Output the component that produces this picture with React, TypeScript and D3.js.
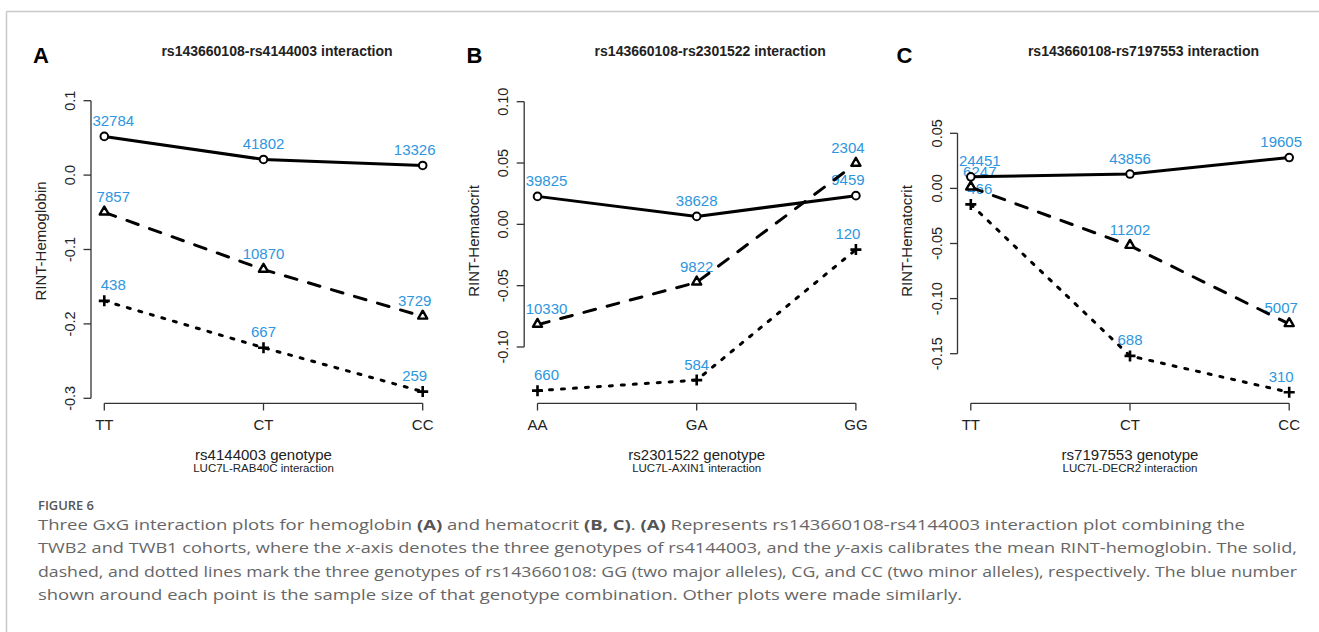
import React from "react";
import * as d3 from "d3";

const width = 1319,
  height = 632;

// panel A: rs143660108 x rs4144003, hemoglobin
const catsA = ["TT", "CT", "CC"];
const solidA = [0.052, 0.021, 0.013];
const dashedA = [-0.05, -0.127, -0.19];
const dottedA = [-0.169, -0.232, -0.291];
const nSolidA = [32784, 41802, 13326];
const nDashedA = [7857, 10870, 3729];
const nDottedA = [438, 667, 259];
const ticksA = [-0.3, -0.2, -0.1, 0.0, 0.1];

// panel B: rs143660108 x rs2301522, hematocrit
const catsB = ["AA", "GA", "GG"];
const solidB = [0.0228, 0.0065, 0.0234];
const dashedB = [-0.0818, -0.0473, 0.0495];
const dottedB = [-0.1356, -0.127, -0.0206];
const nSolidB = [39825, 38628, 9459];
const nDashedB = [10330, 9822, 2304];
const nDottedB = [660, 584, 120];
const ticksB = [-0.1, -0.05, 0.0, 0.05, 0.1];

// panel C: rs143660108 x rs7197553, hematocrit
const catsC = ["TT", "CT", "CC"];
const solidC = [0.0105, 0.013, 0.028];
const dashedC = [0.001, -0.052, -0.123];
const dottedC = [-0.0145, -0.152, -0.185];
const nSolidC = [24451, 43856, 19605];
const nDashedC = [6247, 11202, 5007];
const nDottedC = [466, 688, 310];
const ticksC = [-0.15, -0.1, -0.05, 0.0, 0.05];

const panels = [
  {
    letter: "A", letterX: 33, ox: 0,
    title: "rs143660108-rs4144003 interaction",
    ylab: "RINT-Hemoglobin", xlab: "rs4144003 genotype", sub: "LUC7L-RAB40C interaction",
    cats: catsA, series: [solidA, dashedA, dottedA], counts: [nSolidA, nDashedA, nDottedA],
    ticks: ticksA, fmt: ".1f", yRange: [398.3, 100.7],
  },
  {
    letter: "B", letterX: 466.5, ox: 433.2,
    title: "rs143660108-rs2301522 interaction",
    ylab: "RINT-Hematocrit", xlab: "rs2301522 genotype", sub: "LUC7L-AXIN1 interaction",
    cats: catsB, series: [solidB, dashedB, dottedB], counts: [nSolidB, nDashedB, nDottedB],
    ticks: ticksB, fmt: ".2f", yRange: [347, 101.7],
  },
  {
    letter: "C", letterX: 896.5, ox: 866.5,
    title: "rs143660108-rs7197553 interaction",
    ylab: "RINT-Hematocrit", xlab: "rs7197553 genotype", sub: "LUC7L-DECR2 interaction",
    cats: catsC, series: [solidC, dashedC, dottedC], counts: [nSolidC, nDashedC, nDottedC],
    ticks: ticksC, fmt: ".2f", yRange: [353.7, 133.3],
  },
];

const dashes = [null, "12,12", "3,9"];
const labelShift = [9, 0, -8];
const blue = "#2c96e0";
const ink = "#222";
const axisCol = "#333";
const helv = "'Liberation Sans', Arial, Helvetica, sans-serif";

function Marker({ kind, x, y }: { kind: number; x: number; y: number }) {
  if (kind === 0)
    return <circle cx={x} cy={y} r={3.8} fill="#fff" stroke="#000" strokeWidth={2} />;
  if (kind === 1) {
    const s = d3.symbol(d3.symbolTriangle, 36)();
    return <path d={s as string} transform={`translate(${x},${y - 0.5})`} fill="#fff" stroke="#000" strokeWidth={2.4} strokeLinejoin="round" />;
  }
  return (
    <path d={`M${x - 5.5},${y}H${x + 5.5}M${x},${y - 5.5}V${y + 5.5}`} stroke="#000" strokeWidth={2.6} />
  );
}

function Panel({ p }: { p: (typeof panels)[number] }) {
  const { ox } = p;
  const x = d3.scalePoint<string>().domain(p.cats).range([ox + 104.3, ox + 422.7]);
  const y = d3
    .scaleLinear()
    .domain([p.ticks[0], p.ticks[p.ticks.length - 1]])
    .range(p.yRange);
  const fmt = d3.format(p.fmt);
  const axX = ox + 91;
  const line = d3
    .line<number>()
    .x((_, i) => x(p.cats[i]) as number)
    .y((d) => y(d));
  const xFirst = x(p.cats[0]) as number;
  const xLast = x(p.cats[p.cats.length - 1]) as number;

  return (
    <g>
      <text x={p.letterX} y={63.3} fontFamily={helv} fontWeight="bold" fontSize={22} fill="#000">
        {p.letter}
      </text>
      <text x={ox + 277} y={55.5} textAnchor="middle" fontFamily={helv} fontWeight="bold" fontSize={14} fill={ink}>
        {p.title}
      </text>

      {/* y axis */}
      <line x1={axX} x2={axX} y1={y(p.ticks[0])} y2={y(p.ticks[p.ticks.length - 1])} stroke={axisCol} strokeWidth={1.3} />
      {p.ticks.map((t) => (
        <g key={t}>
          <line x1={axX - 7.5} x2={axX} y1={y(t)} y2={y(t)} stroke={axisCol} strokeWidth={1.3} />
          <text
            transform={`translate(${ox + 70},${y(t)}) rotate(-90)`}
            textAnchor="middle"
            dominantBaseline="central"
            fontFamily={helv}
            fontSize={14.5}
            fill={ink}
          >
            {fmt(t).replace("\u2212", "-")}
          </text>
        </g>
      ))}
      <text
        transform={`translate(${ox + 40},241) rotate(-90)`}
        textAnchor="middle"
        dominantBaseline="central"
        fontFamily={helv}
        fontSize={15}
        fill={ink}
      >
        {p.ylab}
      </text>

      {/* x axis */}
      <line x1={xFirst} x2={xLast} y1={403.3} y2={403.3} stroke={axisCol} strokeWidth={1.3} />
      {p.cats.map((c) => (
        <g key={c}>
          <line x1={x(c)} x2={x(c)} y1={403.3} y2={410.5} stroke={axisCol} strokeWidth={1.3} />
          <text x={x(c)} y={430} textAnchor="middle" fontFamily={helv} fontSize={15} fill={ink}>
            {c}
          </text>
        </g>
      ))}
      <text x={x(p.cats[1])} y={459.5} textAnchor="middle" fontFamily={helv} fontSize={15} fill={ink}>
        {p.xlab}
      </text>
      <text x={x(p.cats[1])} y={472} textAnchor="middle" fontFamily={helv} fontSize={11.5} fill={ink}>
        {p.sub}
      </text>

      {/* sample-size labels */}
      {p.series.map((s, si) =>
        s.map((v, i) => (
          <text
            key={`${si}-${i}`}
            x={(x(p.cats[i]) as number) + labelShift[i]}
            y={y(v) - 16}
            textAnchor="middle"
            dominantBaseline="central"
            fontFamily={helv}
            fontSize={15}
            fill={blue}
          >
            {p.counts[si][i]}
          </text>
        ))
      )}

      {/* lines */}
      {p.series.map((s, si) => (
        <path
          key={si}
          d={line(s) as string}
          fill="none"
          stroke="#000"
          strokeWidth={3}
          strokeDasharray={dashes[si] ?? undefined}
          strokeLinecap={si === 0 ? "butt" : "round"}
        />
      ))}
      {p.series.map((s, si) =>
        s.map((v, i) => <Marker key={`m${si}-${i}`} kind={si} x={x(p.cats[i]) as number} y={y(v)} />)
      )}
    </g>
  );
}

const captionFont = "'Open Sans', 'Noto Sans', sans-serif";

export default function App() {
  return (
    <svg
      width={width}
      height={height}
      style={{ position: "absolute", left: 0, top: 0, background: "#fff" }}
    >
      <line x1={6.5} x2={width} y1={11.5} y2={11.5} stroke="#c8c8c8" strokeWidth={1.5} />
      <line x1={6.5} x2={6.5} y1={11.5} y2={height} stroke="#c8c8c8" strokeWidth={1.5} />

      {panels.map((p) => (
        <Panel key={p.letter} p={p} />
      ))}

      <g fontFamily={captionFont} fill="#666">
        <text x={38} y={509.5} fontSize={12.5} fontWeight={600} fill="#555" textLength={56} lengthAdjust="spacingAndGlyphs">
          FIGURE 6
        </text>
        <text x={38} y={529.5} fontSize={15} textLength={1207} lengthAdjust="spacingAndGlyphs">
          Three GxG interaction plots for hemoglobin <tspan fontWeight="bold" fill="#555">(A)</tspan> and hematocrit{" "}
          <tspan fontWeight="bold" fill="#555">(B, C)</tspan>. <tspan fontWeight="bold" fill="#555">(A)</tspan> Represents
          rs143660108-rs4144003 interaction plot combining the
        </text>
        <text x={38} y={553} fontSize={15} textLength={1259} lengthAdjust="spacingAndGlyphs">
          TWB2 and TWB1 cohorts, where the <tspan fontStyle="italic">x</tspan>-axis denotes the three genotypes of
          rs4144003, and the <tspan fontStyle="italic">y</tspan>-axis calibrates the mean RINT-hemoglobin. The solid,
        </text>
        <text x={38} y={576.5} fontSize={15} textLength={1259} lengthAdjust="spacingAndGlyphs">
          dashed, and dotted lines mark the three genotypes of rs143660108: GG (two major alleles), CG, and CC (two minor
          alleles), respectively. The blue number
        </text>
        <text x={38} y={600} fontSize={15} textLength={924} lengthAdjust="spacingAndGlyphs">
          shown around each point is the sample size of that genotype combination. Other plots were made similarly.
        </text>
      </g>
    </svg>
  );
}
